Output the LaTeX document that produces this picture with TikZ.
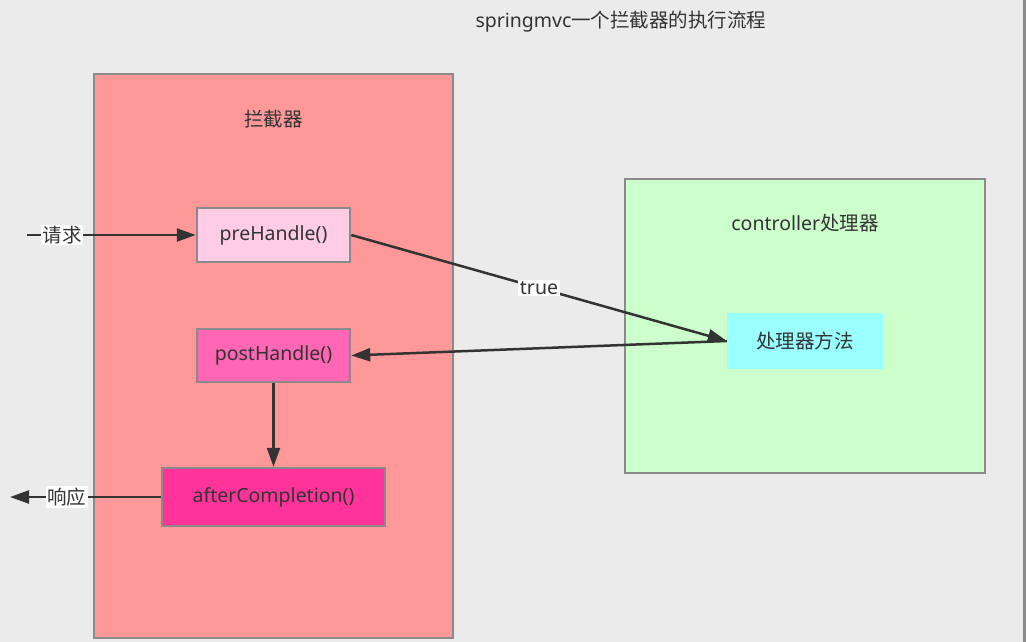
\documentclass[tikz,border=0pt]{standalone}
\usepackage{fontspec}
\setmainfont{Noto Sans}
\newfontfamily\cjk{Noto Sans CJK SC}
\usetikzlibrary{arrows.meta, positioning}
\definecolor{bgGray}{HTML}{EBEBEB}
\definecolor{lineGray}{HTML}{8A8A8A}
\definecolor{txtGray}{HTML}{333333}
\definecolor{lanRed}{HTML}{FF9999}
\definecolor{preFill}{HTML}{FFCCE6}
\definecolor{postFill}{HTML}{FF66B3}
\definecolor{afterFill}{HTML}{FF3399}
\definecolor{ctrlFill}{HTML}{CCFFCC}
\definecolor{methFill}{HTML}{99FFFF}

\begin{document}
\begin{tikzpicture}[x=1pt, y=-1pt, font=\fontsize{19.5}{23}\selectfont, text=txtGray,
  box/.style = {draw=lineGray, line width=2.5pt, inner sep=0pt},
  flow/.style = {draw=txtGray, line width=2.5pt, -{Triangle[length=19pt,width=13pt]}},
  tag/.style = {fill=white, inner sep=1.5pt}]
\fill[bgGray] (0,0) rectangle (1026,642);
\useasboundingbox (0,0) rectangle (1026,642);
\draw[lineGray, line width=2.2pt] (1024.5,0) -- (1024.5,642);
\node (title) at (621,22) {springmvc{\cjk 一个拦截器的执行流程}};
\node[box, fill=lanRed, minimum width=359pt, minimum height=564pt] (lanjie) at (273.5,356) {};
\node (lanjieTitle) at (273.5,119) {\cjk 拦截器};
\node[box, fill=ctrlFill, minimum width=360pt, minimum height=294pt] (ctrl) at (805,326) {};
\node (ctrlTitle) at (805,223) {controller{\cjk 处理器}};
\node[box, fill=preFill, minimum width=153pt, minimum height=54pt] (pre) at (273.5,235) {preHandle()};
\node[box, fill=postFill, minimum width=153pt, minimum height=53pt] (post) at (273.5,355.5) {postHandle()};
\node[box, fill=afterFill, minimum width=223pt, minimum height=58pt] (after) at (273.5,497) {afterCompletion()};
\node[fill=methFill, inner sep=0pt, minimum width=156pt, minimum height=56pt] (meth) at (805,341) {\cjk 处理器方法};
\coordinate (reqIn) at (27,235);
\coordinate (respOut) at (10,497);
\draw[flow] (reqIn) -- node[tag, pos=0.21] {\cjk 请求} (pre);
\draw[flow] (pre.east) -- node[tag] {true} (meth.west);
\draw[flow] (meth.west) -- (post.east);
\draw[flow] (post) -- (after);
\draw[flow] (after) -- node[tag, pos=0.625] {\cjk 响应} (respOut);
\end{tikzpicture}
\end{document}
